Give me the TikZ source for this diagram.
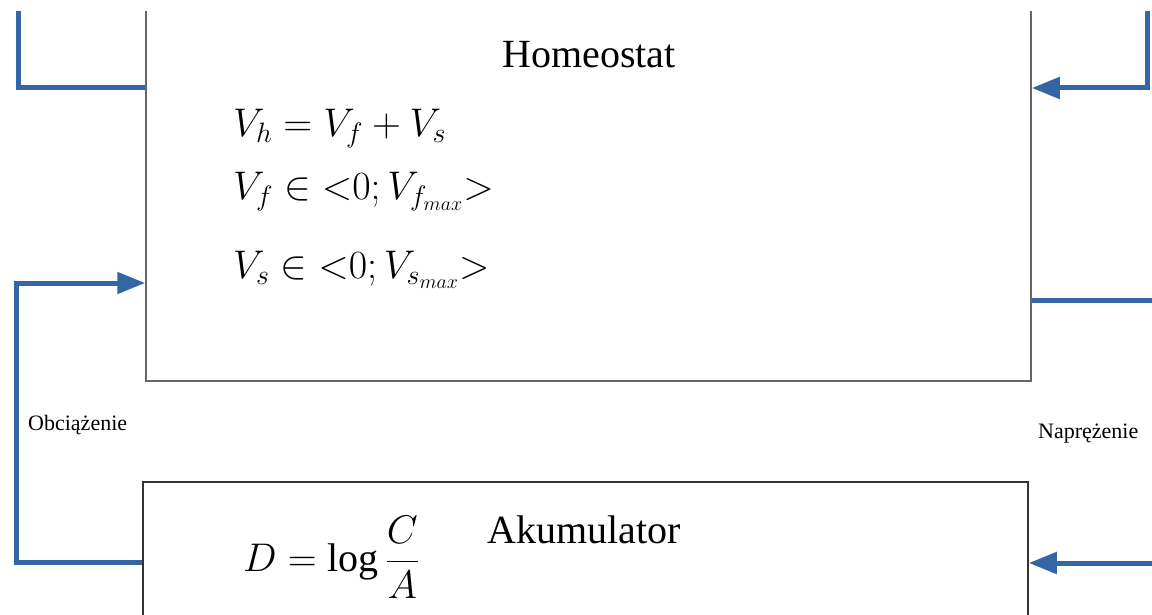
\RequirePackage{fix-cm}
\documentclass[tikz,border=0pt]{standalone}
\usepackage{fontspec}
\setmainfont{Liberation Serif}
\usepackage{amsmath}
\usetikzlibrary{arrows.meta}
\definecolor{wireblue}{HTML}{3465A4}

\begin{document}
\begin{tikzpicture}[
  x=1pt, y=-1pt,
  blok/.style={draw=black!60, line width=1.5pt, inner sep=0pt, minimum width=885pt},
  wire/.style={draw=wireblue, line width=5pt},
  ark/.style={wire, -{Triangle[length=28pt, width=21pt]}},
  lbl/.style={inner sep=0pt, anchor=base west, font=\fontsize{22}{26}\selectfont},
  tytul/.style={inner sep=0pt, anchor=base, font=\fontsize{40}{48}\selectfont},
  wzor/.style={inner sep=0pt, anchor=base west, font=\fontsize{40}{48}\selectfont}
]
\useasboundingbox (0,0) rectangle (1152,615);
\begin{scope}
\clip (0,12) rectangle (1152,615);
\node[blok, minimum height=481pt] (homeo) at (588.5,140.5) {};
\node[blok, draw=black!80, minimum height=218pt] (akum) at (585.5,591) {};
\coordinate (we1) at (18,0);
\coordinate (we2) at (1147,0);
\coordinate (wy1) at (1152,300);
\coordinate (we3) at (1152,563);
\draw[wire] (we1) |- (homeo.west |- 0,88);
\draw[ark] (we2) |- (homeo.east |- 0,88);
\draw[ark] (akum.west |- 0,562) -| (16,283) -- (homeo.west |- 0,283);
\draw[wire] (homeo.east |- wy1) -- (wy1);
\draw[ark] (we3) -- (akum.east |- we3);
\end{scope}
\node[tytul] (homeoT) at (589,68) {Homeostat};
\node[tytul] (akumT) at (584,543) {Akumulator};
\node[wzor] (w1) at (233,137) {$V_h=V_f+V_s$};
\node[wzor] (w2) at (233,200) {$V_f\in{<}0;V_{f_{max}}{>}$};
\node[wzor] (w3) at (233,278) {$V_s\in{<}0;V_{s_{max}}{>}$};
\node[wzor] (wD) at (243,571) {$D=\log\dfrac{C}{A}$};
\node[lbl] (obc) at (28,430) {Obciążenie};
\node[lbl] (nap) at (1038,438) {Naprężenie};
\end{tikzpicture}
\end{document}
